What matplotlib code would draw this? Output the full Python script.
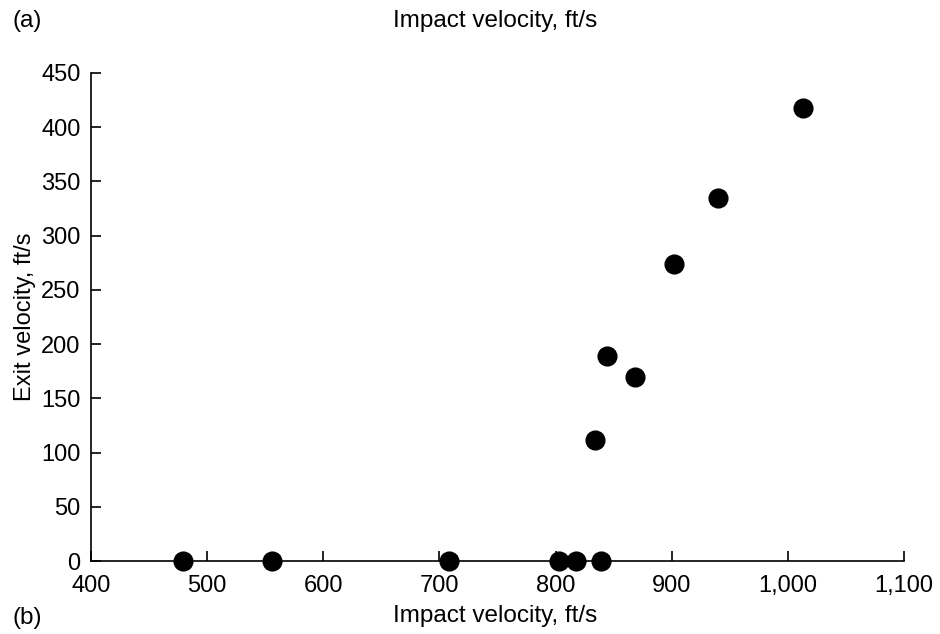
import matplotlib.pyplot as plt

plt.rcParams['font.family'] = ['Liberation Sans', 'DejaVu Sans']

# impact vs exit velocity (ft/s)
impact = [479, 556, 708, 803, 818, 839, 834, 844, 868, 902, 940, 1013]
exit_v = [0, 0, 0, 0, 0, 0, 112, 189, 170, 274, 335, 418]

xticks = [400, 500, 600, 700, 800, 900, 1000, 1100]
xlabels = ['400', '500', '600', '700', '800', '900', '1,000', '1,100']
yticks = [0, 50, 100, 150, 200, 250, 300, 350, 400, 450]

fig = plt.figure(figsize=(9.4, 6.34), dpi=100)
ax = fig.add_axes([0.0968, 0.1151, 0.8649, 0.7698])

ax.plot(impact, exit_v, 'o', color='black', markersize=13.5, clip_on=False, zorder=3)

ax.set_xlim(400, 1100)
ax.set_ylim(0, 450)
ax.set_xticks(xticks)
ax.set_xticklabels(xlabels)
ax.set_yticks(yticks)

for s in ['top', 'right']:
    ax.spines[s].set_visible(False)
for s in ['left', 'bottom']:
    ax.spines[s].set_linewidth(1.2)

ax.tick_params(direction='in', length=7, width=1.2, labelsize=17, colors='black')
ax.tick_params(axis='y', pad=7.5)
ax.tick_params(axis='x', pad=10)

ax.set_ylabel('Exit velocity, ft/s', fontsize=17, labelpad=4)

fig.text(0.527, 0.028, 'Impact velocity, ft/s', ha='center', va='center', fontsize=17.5)
fig.text(0.527, 0.967, 'Impact velocity, ft/s', ha='center', va='center', fontsize=17.5)
fig.text(0.0128, 0.967, '(a)', ha='left', va='center', fontsize=17.5)
fig.text(0.0128, 0.026, '(b)', ha='left', va='center', fontsize=17.5)

fig.savefig('out.png', dpi=100)
